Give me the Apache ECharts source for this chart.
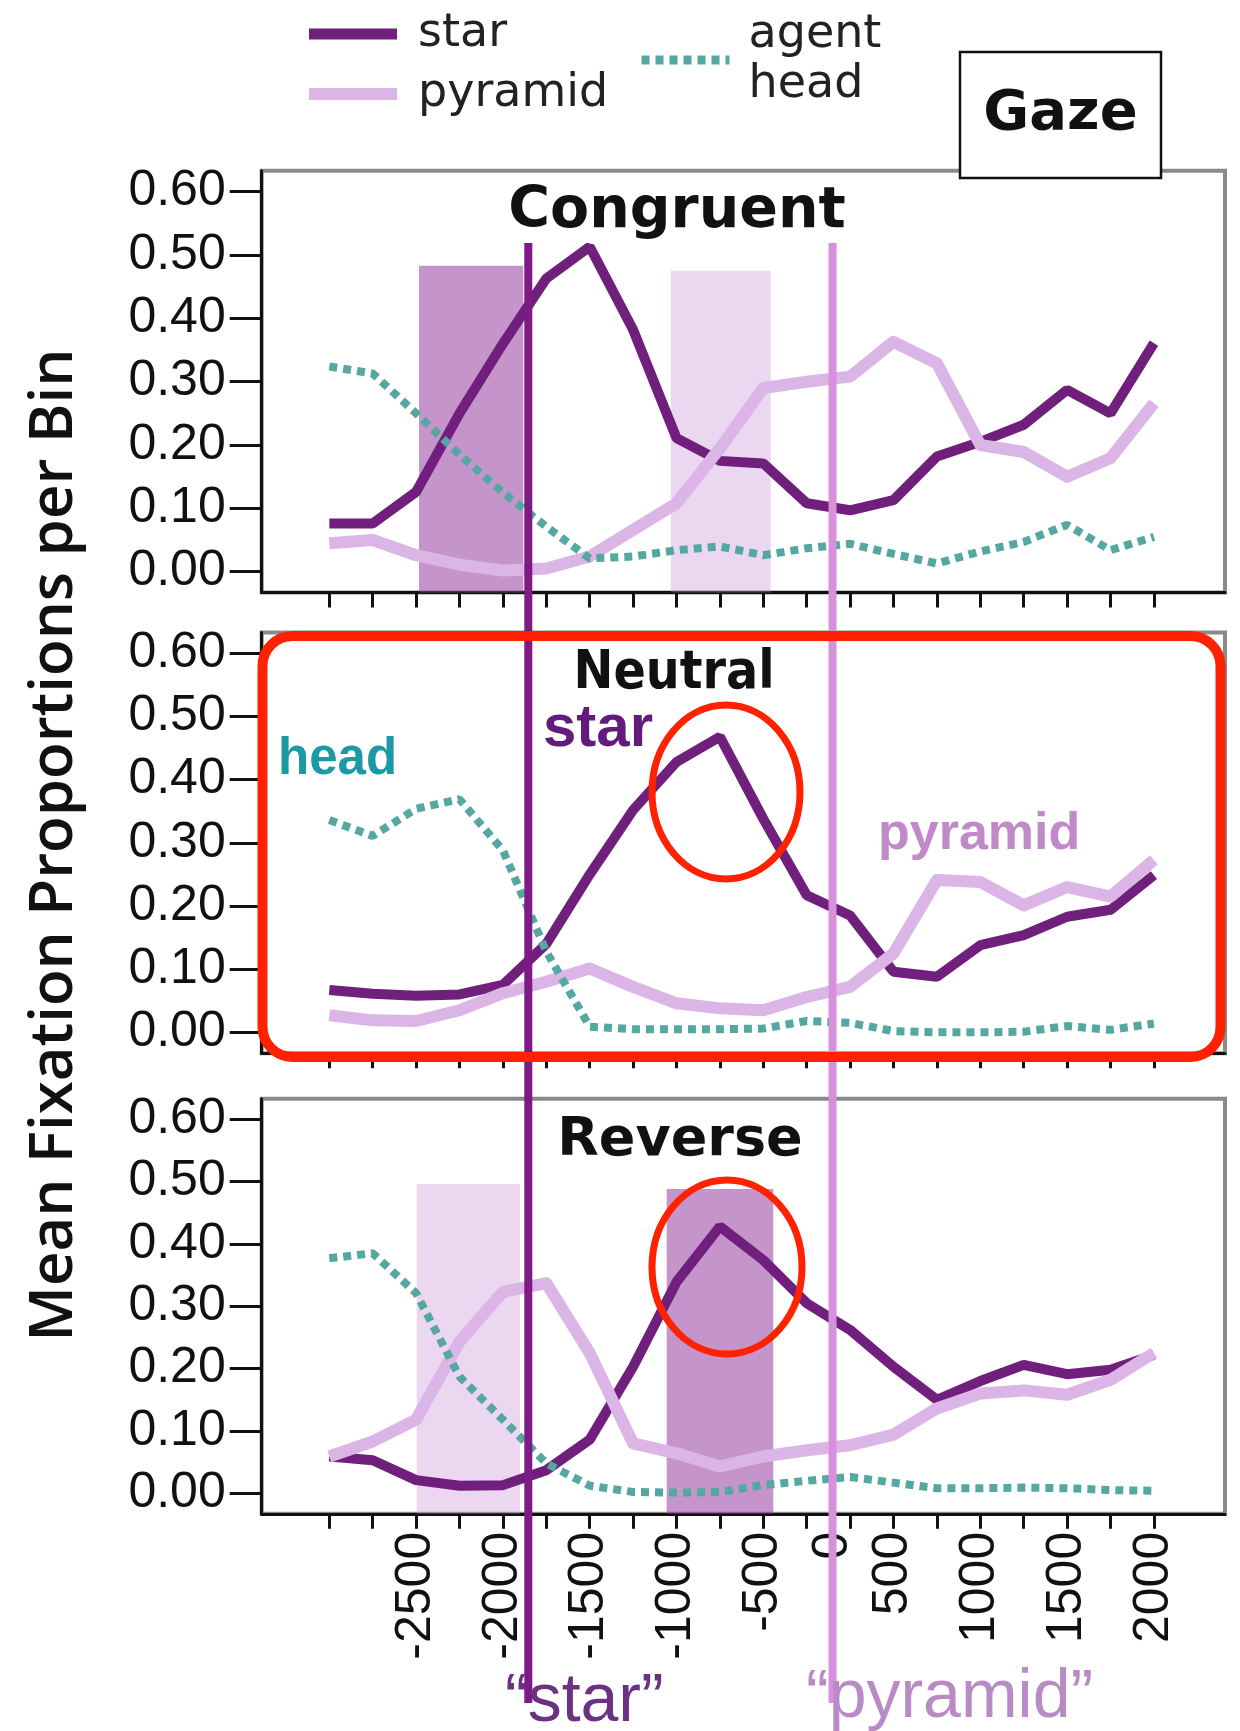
<!DOCTYPE html>
<html><head><meta charset="utf-8">
<script src="https://cdn.jsdelivr.net/npm/echarts@6/dist/echarts.min.js"></script>
<style>html,body{margin:0;padding:0;background:#fff}#c{width:1240px;height:1731px}</style>
</head><body><div id="c"></div>
<script>
// ---- data (x = bin index 0..19) ----
const binIndex = [0,1,2,3,4,5,6,7,8,9,10,11,12,13,14,15,16,17,18,19];
const xLabelPositions = [2,4,6,8,10,11.6,13,15,17,19];
const xLabelTexts = ['-2500','-2000','-1500','-1000','-500','0','500','1000','1500','2000'];
const yTicks = [0,0.1,0.2,0.3,0.4,0.5,0.6];

const congruentStar    = [0.076,0.076,0.126,0.250,0.360,0.463,0.513,0.382,0.211,0.175,0.171,0.108,0.097,0.113,0.182,0.205,0.232,0.287,0.250,0.361];
const congruentPyramid = [0.045,0.050,0.026,0.011,0.002,0.005,0.024,0.066,0.108,0.195,0.290,0.300,0.308,0.363,0.329,0.200,0.189,0.150,0.179,0.266];
const congruentHead    = [0.324,0.313,0.250,0.185,0.125,0.071,0.021,0.024,0.034,0.040,0.026,0.037,0.044,0.028,0.013,0.032,0.047,0.074,0.034,0.055];

const neutralStar    = [0.067,0.061,0.058,0.060,0.075,0.140,0.250,0.352,0.428,0.468,0.338,0.217,0.185,0.096,0.088,0.138,0.154,0.183,0.194,0.249];
const neutralPyramid = [0.027,0.019,0.018,0.035,0.062,0.080,0.101,0.072,0.046,0.038,0.035,0.056,0.072,0.125,0.241,0.238,0.201,0.230,0.215,0.273];
const neutralHead    = [0.336,0.311,0.354,0.369,0.288,0.128,0.009,0.005,0.005,0.005,0.006,0.018,0.015,0.002,0.000,0.000,0.001,0.010,0.004,0.014];

const reverseStar    = [0.059,0.053,0.021,0.012,0.013,0.037,0.086,0.203,0.339,0.428,0.374,0.305,0.262,0.203,0.150,0.180,0.206,0.191,0.198,0.222];
const reversePyramid = [0.059,0.083,0.118,0.243,0.323,0.337,0.225,0.080,0.064,0.043,0.059,0.069,0.077,0.094,0.136,0.160,0.165,0.158,0.182,0.225];
const reverseHead    = [0.377,0.385,0.321,0.187,0.118,0.048,0.012,0.002,0.001,0.002,0.013,0.020,0.026,0.017,0.008,0.008,0.009,0.008,0.005,0.004];

// shaded windows: [fromBin, toBin, top]
const congruentWindowStar    = [2.067, 4.47, 0.483];
const congruentWindowPyramid = [7.87, 10.17, 0.475];
const reverseWindowPyramid   = [2.014, 4.394, 0.496];
const reverseWindowStar      = [7.774, 10.23, 0.488];

// word onsets (bin units)
const onsetStar = 4.585;
const onsetPyramid = 11.595;

// ---- styling ----
const X_MIN = -1.558, X_MAX = 20.638;
const Y_MIN = -0.033, Y_MAX = 0.633;
const C_STAR = '#70207c', C_PYR = '#dab5e6', C_HEAD = '#55a8a2';
const SHADE_DARK = 'rgba(150,60,160,0.55)', SHADE_LIGHT = 'rgba(200,140,215,0.35)';
const NUM_FONT = '"Liberation Sans", Arial, sans-serif';
const W_STAR = 10, W_PYR = 12, W_HEAD = 8, DASH_HEAD = [8, 6];

const pair = arr => arr.map((v, i) => [binIndex[i], v]);

const grids = [
  {left: 261.7, width: 963.3, top: 170.8, height: 421.8},
  {left: 261.7, width: 963.3, top: 632.5, height: 420.7},
  {left: 261.7, width: 963.3, top: 1098.7, height: 415.1},
].map(g => Object.assign(g, {show: true, borderColor: '#8a8a8a', borderWidth: 4, backgroundColor: '#fff'}));
grids.push({left: 261.7, width: 963.3, top: 243, height: 1460, show: false});

function xAxisFor(gi, labels) {
  return {
    type: 'value', gridIndex: gi, min: X_MIN, max: X_MAX,
    axisLine: {show: true, onZero: false, lineStyle: {color: '#111', width: 3}},
    axisTick: {show: true, customValues: binIndex, length: 15, lineStyle: {color: '#111', width: 3}},
    axisLabel: {
      show: labels, customValues: xLabelPositions, rotate: 90, margin: 18,
      color: '#111', fontSize: 50, fontFamily: NUM_FONT,
      formatter: v => { const k = xLabelPositions.findIndex(p => Math.abs(p - v) < 1e-6); return k >= 0 ? xLabelTexts[k] : ''; }
    },
    splitLine: {show: false}
  };
}
function yAxisFor(gi) {
  return {
    type: 'value', gridIndex: gi, min: Y_MIN, max: Y_MAX,
    axisLine: {show: true, onZero: false, lineStyle: {color: '#111', width: 3}},
    axisTick: {show: true, customValues: yTicks, length: 32, lineStyle: {color: '#111', width: 3}},
    axisLabel: {customValues: yTicks, margin: 36, color: '#111', fontSize: 50, fontFamily: NUM_FONT,
      formatter: v => v.toFixed(2)},
    splitLine: {show: false}
  };
}

function panelSeries(gi, star, pyr, head, windows) {
  const s = [
    {name: 'star', type: 'line', xAxisIndex: gi, yAxisIndex: gi, data: pair(star), symbol: 'none', z: 2,
     lineStyle: {color: C_STAR, width: W_STAR}, itemStyle: {color: C_STAR}},
    {name: 'pyramid', type: 'line', xAxisIndex: gi, yAxisIndex: gi, data: pair(pyr), symbol: 'none', z: 2,
     lineStyle: {color: C_PYR, width: W_PYR, join: 'round'}, itemStyle: {color: C_PYR}},
    {name: 'agent head', type: 'line', xAxisIndex: gi, yAxisIndex: gi, data: pair(head), symbol: 'none', z: 2,
     lineStyle: {color: C_HEAD, width: W_HEAD, type: DASH_HEAD}, itemStyle: {color: C_HEAD}}
  ];
  if (windows.length) {
    s.push({type: 'line', xAxisIndex: gi, yAxisIndex: gi, data: [], z: 3, silent: true,
      markArea: {silent: true, data: windows.map(w => [
        {xAxis: w.win[0], yAxis: Y_MIN, itemStyle: {color: w.color}},
        {xAxis: w.win[1], yAxis: w.win[2]}
      ])}});
  }
  return s;
}

const series = [].concat(
  panelSeries(0, congruentStar, congruentPyramid, congruentHead,
    [{win: congruentWindowStar, color: SHADE_DARK}, {win: congruentWindowPyramid, color: SHADE_LIGHT}]),
  panelSeries(1, neutralStar, neutralPyramid, neutralHead, []),
  panelSeries(2, reverseStar, reversePyramid, reverseHead,
    [{win: reverseWindowPyramid, color: SHADE_LIGHT}, {win: reverseWindowStar, color: SHADE_DARK}]),
  [
    {type: 'line', xAxisIndex: 3, yAxisIndex: 3, data: [[onsetStar, 0], [onsetStar, 1]], symbol: 'none', z: 4, silent: true,
     lineStyle: {color: '#7d1a86', width: 8}},
    {type: 'line', xAxisIndex: 3, yAxisIndex: 3, data: [[onsetPyramid, 0], [onsetPyramid, 1]], symbol: 'none', z: 4, silent: true,
     lineStyle: {color: '#d791dc', width: 8}}
  ]
);

const txt = (text, x, y, font, fill, align, extra) => Object.assign({
  type: 'text', x: x, y: y, z: 50,
  style: {text: text, x: 0, y: 0, font: font, fill: fill, textAlign: align || 'center', textVerticalAlign: 'middle', verticalAlign: 'middle'}
}, extra || {});

const legendText = {fontFamily: '"DejaVu Sans"', fontSize: 46, lineHeight: 50, color: '#222'};

const option = {
  animation: false,
  backgroundColor: '#fff',
  grid: grids,
  xAxis: [xAxisFor(0, false), xAxisFor(1, false), xAxisFor(2, true),
          {type: 'value', gridIndex: 3, min: X_MIN, max: X_MAX, show: false}],
  yAxis: [yAxisFor(0), yAxisFor(1), yAxisFor(2),
          {type: 'value', gridIndex: 3, min: 0, max: 1, show: false}],
  legend: [
    {data: [
       {name: 'star', lineStyle: {color: C_STAR, width: W_STAR + 1}},
       {name: 'pyramid', lineStyle: {color: C_PYR, width: W_PYR}}
     ],
     orient: 'vertical', left: 298, top: 4, itemWidth: 88, itemHeight: 20, itemGap: 10,
     selectedMode: false, itemStyle: {opacity: 0},
     textStyle: Object.assign({padding: [0, 0, 0, 16]}, legendText)},
    {data: [{name: 'agent head', lineStyle: {color: C_HEAD, width: W_HEAD + 1, type: DASH_HEAD}}],
     orient: 'vertical', left: 632, top: 5, itemWidth: 88, itemHeight: 20,
     selectedMode: false, itemStyle: {opacity: 0}, formatter: () => 'agent\nhead',
     textStyle: Object.assign({padding: [0, 0, 0, 14]}, legendText)}
  ],
  graphic: [
    // Gaze box
    {type: 'rect', z: 60, shape: {x: 960, y: 52, width: 201, height: 126}, style: {fill: '#fff', stroke: '#111', lineWidth: 2.5}},
    txt('Gaze', 1060.5, 114, 'bold 56px "DejaVu Sans"', '#111', 'center', {z: 61}),
    // panel titles
    txt('Congruent', 677, 212, 'bold 57px "DejaVu Sans"', '#111'),
    txt('Neutral', 674, 674, 'bold 53px "DejaVu Sans Condensed", "DejaVu Sans"', '#111'),
    txt('Reverse', 680, 1141, 'bold 54px "DejaVu Sans"', '#111'),
    // y axis title
    txt('Mean Fixation Proportions per Bin', 55, 845, '600 60px "Open Sans"', '#111', 'center', {rotation: Math.PI / 2}),
    // colored annotations in Neutral panel
    txt('head', 278, 760, 'bold 51px "Liberation Sans", Arial', '#1b9aa6', 'left'),
    txt('star', 543, 729, 'bold 60px "Liberation Sans", Arial', '#621a7c', 'left'),
    txt('pyramid', 878, 835, 'bold 52px "Liberation Sans", Arial', '#c08ac9', 'left'),
    // word labels under axis
    txt('\u201cstar\u201d', 505, 1702, '68px "Liberation Sans", Arial', '#6b3281', 'left'),
    txt('\u201cpyramid\u201d', 806, 1698, '68px "Liberation Sans", Arial', '#b88bc5', 'left'),
    // red highlight annotations
    {type: 'rect', z: 100, shape: {x: 262.5, y: 636, width: 958, height: 421, r: 30},
     style: {fill: 'none', stroke: '#ff2200', lineWidth: 10}},
    {type: 'ellipse', z: 100, shape: {cx: 726, cy: 792, rx: 74, ry: 87},
     style: {fill: 'none', stroke: '#ff2200', lineWidth: 7}},
    {type: 'ellipse', z: 100, shape: {cx: 727, cy: 1267, rx: 75, ry: 87},
     style: {fill: 'none', stroke: '#ff2200', lineWidth: 7}}
  ],
  series: series
};

const chart = echarts.init(document.getElementById('c'), null, {renderer: 'canvas', width: 1240, height: 1731});
chart.setOption(option);
</script>
</body></html>
